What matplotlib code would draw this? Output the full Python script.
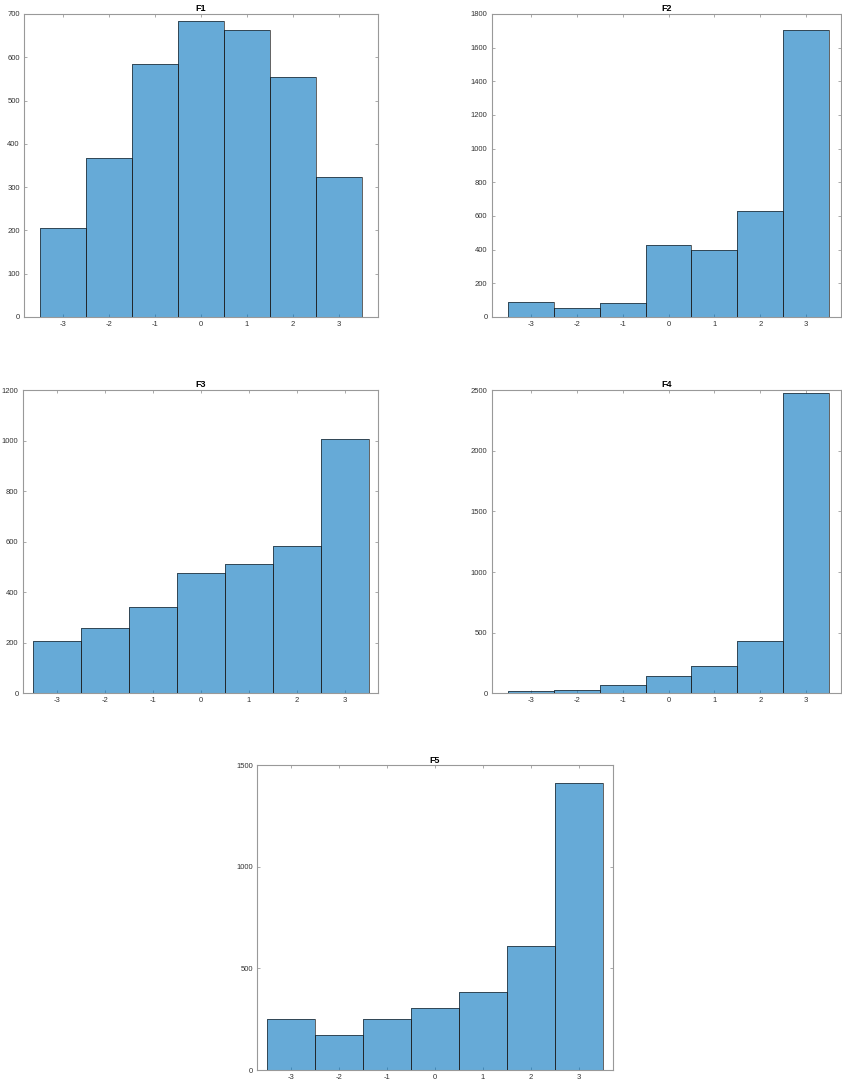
"""
    Histograms of F1..F5
"""

import numpy as np
import matplotlib
matplotlib.use('Agg')
import matplotlib.pyplot as plt

bins = [-3, -2, -1, 0, 1, 2, 3]
titles = ['F1', 'F2', 'F3', 'F4', 'F5']

f1 = [206, 367, 584, 683, 664, 554, 323]
f2 = [87, 55, 83, 426, 398, 630, 1705]
f3 = [208, 257, 342, 477, 512, 582, 1006]
f4 = [19, 25, 66, 140, 222, 429, 2475]
f5 = [249, 172, 251, 304, 382, 609, 1411]
counts = [f1, f2, f3, f4, f5]

ylims = [700, 1800, 1200, 2500, 1500]
ysteps = [100, 200, 200, 500, 500]
xlims = [(-3.84, 3.84), (-3.85, 3.76), (-3.71, 3.69), (-3.85, 3.76), (-3.71, 3.71)]

# axes boxes in figure fractions [left, bottom, width, height]
boxes = [[0.0285, 0.7076, 0.4204, 0.2795],
         [0.584, 0.7076, 0.415, 0.2795],
         [0.027, 0.3604, 0.422, 0.2798],
         [0.584, 0.3604, 0.415, 0.2798],
         [0.3056, 0.0129, 0.422, 0.281]]

plt.rcParams['font.family'] = ['Liberation Sans', 'DejaVu Sans']
plt.rcParams['axes.unicode_minus'] = False

fig = plt.figure(figsize=(8.42, 10.84), dpi=100)

for k in range(5):
    ax = fig.add_axes(boxes[k])
    ax.bar(bins, counts[k], width=1.0, color='#0072BD', alpha=0.6,
           edgecolor='none', zorder=2)
    ax.bar(bins, counts[k], width=1.0, color='none',
           edgecolor='#1a1a1a', linewidth=0.6, alpha=0.8, zorder=3)
    ax.set_xlim(*xlims[k])
    ax.set_ylim(0, ylims[k])
    ax.set_xticks(bins)
    ax.set_yticks(np.arange(0, ylims[k] + 1, ysteps[k]))
    ax.tick_params(direction='in', length=2.5, width=0.5, colors='#888888',
                   labelcolor='#333333', labelsize=5.5, top=True, right=True,
                   pad=3)
    for s in ax.spines.values():
        s.set_color('#999999')
        s.set_linewidth(0.8)
    ax.set_title(titles[k], fontsize=6.5, fontweight='bold', pad=2)

plt.savefig('out.png', dpi=100)
plt.close()
